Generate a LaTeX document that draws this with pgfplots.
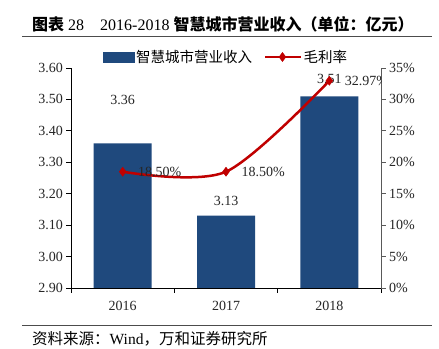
\documentclass[border=0pt]{standalone}
\usepackage{fontspec}
\usepackage{pgfplots}
\pgfplotsset{compat=1.18}
\setmainfont{Liberation Serif}
\newfontfamily\cjk{Noto Sans CJK SC}
\definecolor{barblue}{RGB}{31,73,125}
\definecolor{linered}{RGB}{192,0,0}
\definecolor{axgray}{RGB}{89,89,89}
\pgfplotsset{longline/.style={legend image code/.code={\draw[mark repeat=2,mark phase=2,##1] plot coordinates {(0pt,0pt) (17pt,0pt) (35pt,0pt)};}}}
\begin{document}
\begin{tikzpicture}[x=1pt,y=1pt]
\fill[white] (0,0) rectangle (439,348);
\useasboundingbox (0,0) rectangle (439,348);
\node[anchor=base west, inner sep=0, font=\fontsize{16}{19}\selectfont] at (32,317.5) {{\cjk\bfseries 图表} 28\hspace{1em}2016-2018 {\cjk\bfseries 智慧城市营业收入（单位：亿元）}};
\draw[black!70, line width=0.8pt] (22,312) -- (432,312);
\draw[black!70, line width=0.8pt] (22,22.5) -- (432,22.5);
\node[anchor=base west, inner sep=0, font=\fontsize{15.5}{18}\selectfont] at (32,3) {{\cjk 资料来源：}Wind{\cjk ，万和证券研究所}};

\begin{axis}[
  at={(71pt,60pt)}, anchor=south west, scale only axis, width=310pt, height=220pt,
  xmin=-0.5, xmax=2.5, ymin=2.9, ymax=3.6,
  axis x line*=bottom, axis y line*=left, axis line style={-, black, line width=0.8pt},
  ytick={2.9,3,3.1,3.2,3.3,3.4,3.5,3.6},
  yticklabel style={/pgf/number format/.cd, fixed, fixed zerofill, precision=2},
  /pgf/number format/assume math mode=true,
  tick label style={font=\fontsize{14}{16}\selectfont, text=black!85},
  tick align=outside, major tick length=4.5pt, minor tick length=5pt,
  tick style={black, line width=0.8pt},
  xtick={0,1,2}, xticklabels={2016,2017,2018},
  major x tick style={draw=none},
  minor xtick={-0.5,0.5,1.5,2.5},
  xticklabel style={yshift=-5pt},
  ybar, bar width=58pt,
]
\addplot[fill=barblue, draw=none] coordinates {(0,3.36) (1,3.13) (2,3.51)};
\node[font=\fontsize{14}{16}\selectfont, text=black!85] at (axis cs:0,3.498) {3.36};
\node[font=\fontsize{14}{16}\selectfont, text=black!85] at (axis cs:1,3.177) {3.13};
\node[font=\fontsize{14}{16}\selectfont, text=black!85] at (axis cs:2,3.565) {3.51};
\end{axis}

\begin{axis}[
  at={(71pt,60pt)}, anchor=south west, scale only axis, width=310pt, height=220pt,
  xmin=-0.5, xmax=2.5, ymin=0, ymax=35,
  axis x line=none, axis y line*=right, axis line style={-, axgray, line width=0.8pt},
  ytick={0,5,10,15,20,25,30,35},
  yticklabel={\pgfmathprintnumber{\tick}\%},
  /pgf/number format/assume math mode=true,
  tick label style={font=\fontsize{14}{16}\selectfont, text=black!85},
  tick align=outside, major tick length=4.5pt, tick style={axgray, line width=0.8pt},
  legend style={at={(0.5,1)}, anchor=center, yshift=11pt, draw=none, fill=none,
    legend columns=2, font=\cjk\fontsize{14.5}{16}\selectfont,
    /tikz/every even column/.append style={column sep=10pt}},
]
\addlegendimage{legend image code/.code={\fill[barblue] (0pt,-5pt) rectangle (31pt,5pt);}}
\addlegendentry{智慧城市营业收入}
\addplot[linered, line width=2.5pt, smooth, mark=diamond*, mark size=4.5pt,
  mark options={fill=linered, line width=0.5pt}, longline]
  coordinates {(0,18.5) (1,18.5) (2,32.97)};
\addlegendentry{毛利率}
\node[anchor=west, xshift=12pt, font=\fontsize{14}{16}\selectfont, text=black!85] at (axis cs:0,18.5) {18.50\%};
\node[anchor=west, xshift=12pt, font=\fontsize{14}{16}\selectfont, text=black!85] at (axis cs:1,18.5) {18.50\%};
\node[anchor=west, xshift=12pt, font=\fontsize{14}{16}\selectfont, text=black!85] at (axis cs:2,32.97) {32.97\%};
\end{axis}
\end{tikzpicture}
\end{document}
